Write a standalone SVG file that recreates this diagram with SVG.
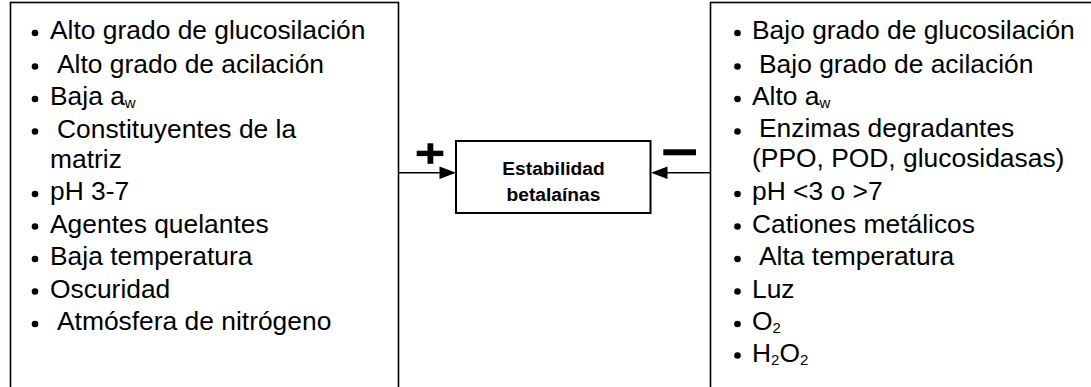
<svg xmlns="http://www.w3.org/2000/svg" width="1091" height="387" viewBox="0 0 1091 387">
<style>
.t{font-family:"Liberation Sans",Arial,sans-serif;font-size:26.4px;fill:#000}
.s{font-size:15px}
.c{font-family:"Liberation Sans",Arial,sans-serif;font-size:19.2px;font-weight:bold;fill:#000;text-anchor:middle}
.box{fill:#fff;stroke:#000;stroke-width:1.6}
.b{fill:#000}
</style>
<rect width="1091" height="387" fill="#fff"/>
<g id="left-box">
<rect class="box" x="10.5" y="2.5" width="388" height="400"/>
<g class="b">
<circle cx="35" cy="33" r="3.3"/><circle cx="35" cy="66.5" r="3.3"/><circle cx="35" cy="99" r="3.3"/><circle cx="35" cy="131.5" r="3.3"/>
<circle cx="35" cy="194" r="3.3"/><circle cx="35" cy="226.5" r="3.3"/><circle cx="35" cy="259" r="3.3"/><circle cx="35" cy="291.5" r="3.3"/><circle cx="35" cy="324" r="3.3"/>
</g>
<text class="t" x="50" y="39">Alto grado de glucosilación</text>
<text class="t" x="57" y="72.5">Alto grado de acilación</text>
<text class="t" x="50" y="105">Baja a<tspan class="s" dy="3">w</tspan></text>
<text class="t" x="57" y="137.5">Constituyentes de la</text>
<text class="t" x="50" y="167.5">matriz</text>
<text class="t" x="50" y="200">pH 3-7</text>
<text class="t" x="50" y="232.5">Agentes quelantes</text>
<text class="t" x="50" y="265">Baja temperatura</text>
<text class="t" x="50" y="297.5">Oscuridad</text>
<text class="t" x="57" y="330">Atmósfera de nitrógeno</text>
</g>
<g id="right-box">
<rect class="box" x="710.5" y="2.5" width="400" height="400"/>
<g class="b">
<circle cx="737.5" cy="33" r="3.3"/><circle cx="737.5" cy="66.5" r="3.3"/><circle cx="737.5" cy="99" r="3.3"/><circle cx="737.5" cy="131.5" r="3.3"/>
<circle cx="737.5" cy="194" r="3.3"/><circle cx="737.5" cy="226.5" r="3.3"/><circle cx="737.5" cy="259" r="3.3"/><circle cx="737.5" cy="291.5" r="3.3"/><circle cx="737.5" cy="324" r="3.3"/><circle cx="737.5" cy="355.5" r="3.3"/>
</g>
<text class="t" x="752" y="38.5">Bajo grado de glucosilación</text>
<text class="t" x="759" y="72.5">Bajo grado de acilación</text>
<text class="t" x="752" y="104.5">Alto a<tspan class="s" dy="3">w</tspan></text>
<text class="t" x="759" y="137">Enzimas degradantes</text>
<text class="t" x="752" y="167">(PPO, POD, glucosidasas)</text>
<text class="t" x="752" y="200">pH &lt;3 o &gt;7</text>
<text class="t" x="752" y="232.5">Cationes metálicos</text>
<text class="t" x="759" y="265">Alta temperatura</text>
<text class="t" x="752" y="297.5">Luz</text>
<text class="t" x="752" y="330">O<tspan class="s" dy="3">2</tspan></text>
<text class="t" x="752" y="362">H<tspan class="s" dy="3">2</tspan><tspan dy="-3">O</tspan><tspan class="s" dy="3">2</tspan></text>
</g>
<g id="center">
<rect x="456" y="141" width="194.5" height="72" fill="#fff" stroke="#000" stroke-width="2"/>
<text class="c" x="553.5" y="175">Estabilidad</text>
<text class="c" x="553.5" y="201">betalaínas</text>
</g>
<g id="connectors">
<line x1="398.5" y1="172.7" x2="442" y2="172.7" stroke="#000" stroke-width="1.6"/>
<polygon points="439.5,166.5 456,172.7 439.5,179" fill="#000"/>
<line x1="710.5" y1="172.7" x2="665" y2="172.7" stroke="#000" stroke-width="1.6"/>
<polygon points="667.5,166.5 651,172.7 667.5,179" fill="#000"/>
<g id="plus" fill="#000">
<rect x="416.7" y="150.7" width="26.6" height="5.4"/>
<rect x="427.5" y="143.3" width="5.8" height="20.5"/>
</g>
<rect id="minus" x="663.3" y="149.3" width="32.7" height="6" fill="#000"/>
</g>
</svg>
